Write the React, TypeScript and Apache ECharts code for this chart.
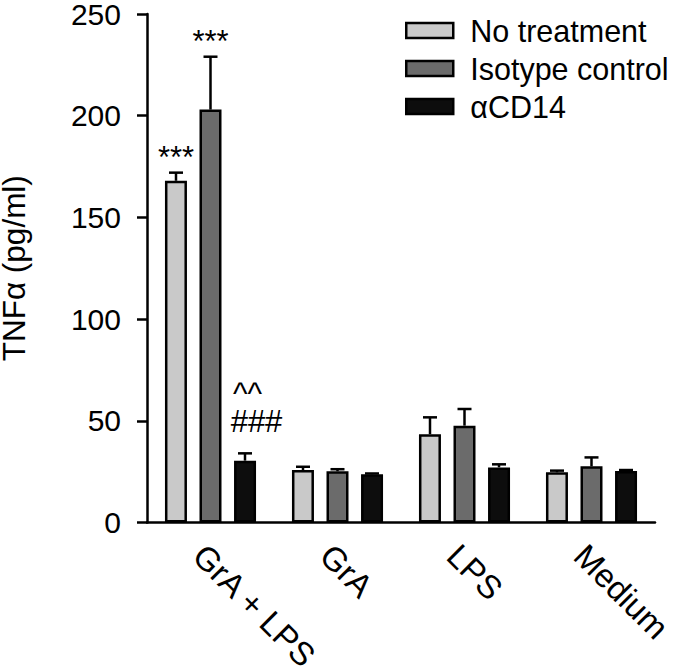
import React, { useEffect, useRef } from "react";
import * as echarts from "echarts";

const categories = ["GrA + LPS", "GrA", "LPS", "Medium"];
const seriesNames = ["No treatment", "Isotype control", "αCD14"];
const noTreatment = [168, 25.8, 43.4, 24.7];
const noTreatmentErr = [4, 1.6, 8.3, 0.8];
const isotype = [203, 25.2, 47.6, 27.6];
const isotypeErr = [26, 1, 8.2, 4.4];
const cd14 = [30.4, 23.7, 27.1, 25.3];
const cd14Err = [3.6, 0.4, 1.5, 0.5];
const annotNoTreatment = [["***"], [], [], []];
const annotIsotype = [["***"], [], [], []];
const annotCD14 = [["###", "^^"], [], [], []];
const yTicks = [0, 50, 100, 150, 200, 250];

const FONT = "'Liberation Sans', Arial, sans-serif";
const colors = ["#c9c9c9", "#6b6b6b", "#0d0d0d"];

// glyph-specific vertical lift (px above error-bar top) and x shift for annotation text
const annotLift: Record<string, number> = { "***": 15.5, "###": 31.5, "^^": 60 };
const annotShift: Record<string, number> = { "***": 0, "###": 11.5, "^^": 2.5 };

export default function App() {
  const ref = useRef<HTMLDivElement>(null);
  useEffect(() => {
    if (!ref.current) return;
    const chart = echarts.init(ref.current, undefined, { renderer: "svg" });
    const barWidth = 22;
    const spacing = 34.5;
    const means = [noTreatment, isotype, cd14];
    const errs = [noTreatmentErr, isotypeErr, cd14Err];
    const annots = [annotNoTreatment, annotIsotype, annotCD14];

    const barSeries = means.map((m, k) => ({
      name: seriesNames[k],
      type: "bar",
      data: m,
      barWidth,
      barGap: "57%",
      itemStyle: { color: colors[k], borderColor: "#000", borderWidth: 2.5 },
      z: 2,
    }));

    const errSeries = means.map((m, k) => ({
      type: "custom",
      name: "err" + k,
      z: 3,
      data: m.map((v, i) => [i, v, errs[k][i]]),
      encode: { x: 0, y: [1] },
      renderItem: (params: any, api: any) => {
        const ci = api.value(0);
        const mean = api.value(1);
        const err = api.value(2);
        const base = api.coord([ci, mean]);
        const top = api.coord([ci, mean + err]);
        const x = base[0] + (k - 1) * spacing;
        const children: any[] = [
          {
            type: "line",
            shape: { x1: x, y1: base[1], x2: x, y2: top[1] },
            style: { stroke: "#000", lineWidth: 2.5 },
          },
          {
            type: "line",
            shape: { x1: x - 7, y1: top[1], x2: x + 7, y2: top[1] },
            style: { stroke: "#000", lineWidth: 2.5 },
          },
        ];
        const lines = annots[k][params.dataIndex] || [];
        lines.forEach((t: string) => {
          children.push({
            type: "text",
            x: x + (annotShift[t] || 0),
            y: top[1] - (annotLift[t] || 15),
            style: {
              text: t,
              fontSize: 31,
              fontFamily: FONT,
              fill: "#000",
              align: "center",
              verticalAlign: "middle",
            },
          });
        });
        return { type: "group", children };
      },
    }));

    chart.setOption({
      animation: false,
      backgroundColor: "#fff",
      grid: { left: 147, right: 20, top: 14, bottom: 144.5, containLabel: false, outerBoundsMode: "none" },
      legend: {
        data: seriesNames,
        orient: "vertical",
        left: 400,
        top: 10,
        itemWidth: 47,
        itemHeight: 15,
        itemGap: 7,
        icon: "rect",
        itemStyle: { borderColor: "#000", borderWidth: 2.5 },
        textStyle: { fontSize: 30.5, color: "#000", fontFamily: FONT, lineHeight: 30, padding: [0, 0, 0, 12] },
      },
      xAxis: {
        type: "category",
        data: categories,
        axisLine: { lineStyle: { color: "#000", width: 2.5 } },
        axisTick: { alignWithLabel: true, length: 8, lineStyle: { color: "#000", width: 2.5 } },
        axisLabel: {
          rotate: -45,
          fontSize: 33,
          fontFamily: FONT,
          color: "#000",
          margin: 16,
          align: "left",
          verticalAlign: "top",
          interval: 0,
        },
      },
      yAxis: {
        type: "value",
        min: yTicks[0],
        max: yTicks[yTicks.length - 1],
        interval: 50,
        name: "TNFα (pg/ml)",
        nameLocation: "middle",
        nameRotate: 90,
        nameGap: 117,
        nameTextStyle: { fontSize: 31.5, fontFamily: FONT, color: "#000" },
        axisLine: { show: true, lineStyle: { color: "#000", width: 2.5 } },
        axisTick: { show: true, length: 10, lineStyle: { color: "#000", width: 2.5 } },
        axisLabel: { fontSize: 30, fontFamily: FONT, color: "#000", margin: 26 },
        splitLine: { show: false },
      },
      series: [...barSeries, ...errSeries],
    });
    return () => chart.dispose();
  }, []);
  return (
    <div
      ref={ref}
      style={{ position: "fixed", left: 0, top: 0, width: 675, height: 667, background: "#fff" }}
    />
  );
}
